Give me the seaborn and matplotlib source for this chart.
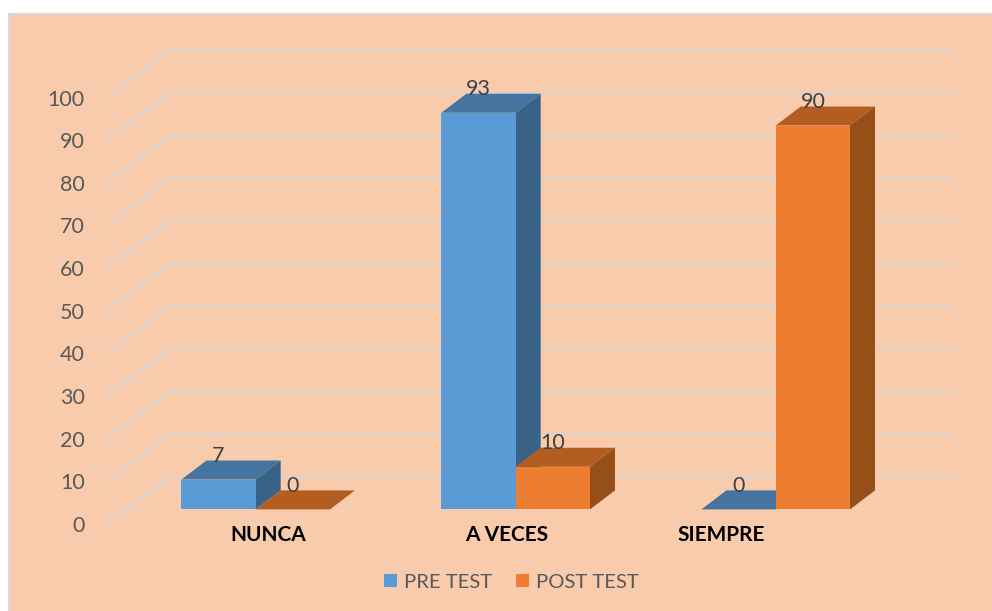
import pandas as pd
import matplotlib.pyplot as plt
from matplotlib.patches import Polygon, Rectangle
import seaborn as sns

# data
categories = ["NUNCA", "A VECES", "SIEMPRE"]
pre_test = [7, 93, 0]
post_test = [0, 10, 90]
series_names = ["PRE TEST", "POST TEST"]
y_ticks = list(range(0, 101, 10))

# canvas and pixel helpers
W, H = 992, 611
PX_PER_CAT = 260.0
PX_PER_UNIT = 4.265
FRONT_LEFT, FRONT_BASE = 125.7, 509.4

FACES = {
    "PRE TEST": {"front": "#5B9BD5", "top": "#44749F", "side": "#386387"},
    "POST TEST": {"front": "#ED7D31", "top": "#B45D20", "side": "#964F19"},
}
GRID = "#D9D2CE"
BG = "#F8CBAD"

sns.set_theme(style="white")
plt.rcParams["font.family"] = ["Lato", "DejaVu Sans"]


def axes_rect(left, base, width, height):
    return [left / W, (H - base) / H, width / W, height / H]


df = pd.DataFrame({
    "cat": categories * 2,
    "serie": [series_names[0]] * 3 + [series_names[1]] * 3,
    "valor": pre_test + post_test,
})

fig = plt.figure(figsize=(W / 100, H / 100), dpi=100, facecolor="white")
fig.add_artist(Rectangle((9 / W, -0.01), 1.0, (H - 14) / H + 0.01,
                         transform=fig.transFigure, facecolor=BG,
                         edgecolor="#D9D9D9", linewidth=1.5, zorder=-1))

# wall axes: slanted gridlines + y tick labels
WALL_DX = 63 / 844
WALL_DY = 47.5 / PX_PER_UNIT
ax_wall = fig.add_axes(axes_rect(107, 524, 844, 100 * PX_PER_UNIT))
ax_wall.patch.set_alpha(0)
ax_wall.set_xlim(0, 1)
ax_wall.set_ylim(0, 100)
for v in y_ticks:
    ax_wall.plot([0, WALL_DX, 1], [v, v + WALL_DY, v + WALL_DY],
                 color=GRID, lw=1.6, clip_on=False, solid_joinstyle="miter")
ax_wall.set_xticks([])
ax_wall.set_yticks(y_ticks)
ax_wall.tick_params(axis="y", length=0, pad=16, labelsize=15.5, labelcolor="#595959")
sns.despine(ax=ax_wall, left=True, bottom=True)

# bars
ax = fig.add_axes(axes_rect(FRONT_LEFT, FRONT_BASE, 3 * PX_PER_CAT, 100 * PX_PER_UNIT))
ax.patch.set_alpha(0)
sns.barplot(data=df, x="cat", y="valor", hue="serie", hue_order=series_names,
            order=categories, width=0.5715, gap=0, linewidth=0, saturation=1,
            palette=[FACES[s]["front"] for s in series_names], ax=ax)
ax.set_xlim(-0.5, 2.5)
ax.set_ylim(0, 100)
ax.set_xlabel("")
ax.set_ylabel("")
ax.set_yticks([])

# the labels in the original are not centred on their groups
label_px = [268, 506.5, 721]
ax.set_xticks([(p - FRONT_LEFT) / PX_PER_CAT - 0.5 for p in label_px])
ax.set_xticklabels(categories, fontsize=15, fontweight="bold", color="black")
ax.tick_params(axis="x", length=0, pad=11)
sns.despine(ax=ax, left=True, bottom=True)

# fake depth on each bar
DX = 25 / PX_PER_CAT
DY = 19 / PX_PER_UNIT
names = [s for s in series_names for _ in categories]
values = pre_test + post_test
for bar, name, val in zip(ax.patches, names, values):
    x, w = bar.get_x(), bar.get_width()
    h = bar.get_height()
    z = 3 + series_names.index(name)
    bar.set_zorder(z + 0.5)
    ax.add_patch(Polygon([(x, h), (x + w, h), (x + w + DX, h + DY), (x + DX, h + DY)],
                         facecolor=FACES[name]["top"], edgecolor="none",
                         clip_on=False, zorder=z))
    ax.add_patch(Polygon([(x + w, 0), (x + w + DX, DY), (x + w + DX, h + DY), (x + w, h)],
                         facecolor=FACES[name]["side"], edgecolor="none",
                         clip_on=False, zorder=z))
    ax.annotate(str(val), (x + w / 2, h), xytext=(0, 17), textcoords="offset points",
                ha="center", va="center", fontsize=15.5, color="#404040",
                zorder=6, annotation_clip=False)

sns.move_legend(ax, "center", bbox_to_anchor=(511.5 / W, (H - 582) / H),
                bbox_transform=fig.transFigure, ncol=2, frameon=False, title=None,
                fontsize=14.6, handlelength=0.65, handleheight=0.65,
                handletextpad=0.35, columnspacing=1.18)
for t in ax.get_legend().get_texts():
    t.set_color("#595959")

plt.savefig("out.png", dpi=100, facecolor="white")
